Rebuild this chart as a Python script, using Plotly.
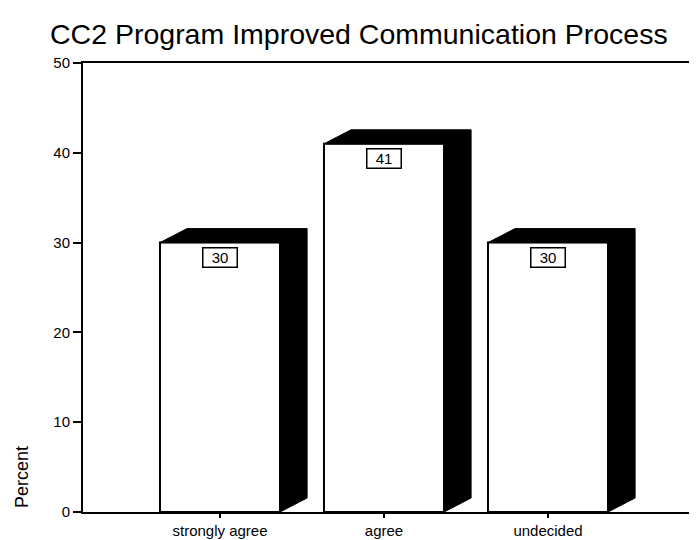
import plotly.graph_objects as go

categories = ["strongly agree", "agree", "undecided"]
percent = [30, 41, 30]
y_ticks = [0, 10, 20, 30, 40, 50]

title_text = "CC2 Program Improved Communication Process"
y_title = "Percent"

# geometry (style) parameters
bar_w = 0.732      # front face width in category units
dx = 0.165         # 3D depth, category units
dy = 1.56          # 3D depth, data units

# page body has an 8px margin; size the figure so it fits the 697x540 window
W, H = 689, 532

xs = list(range(len(categories)))

fig = go.Figure()

# black top + side of each 3D bar
for x, v in zip(xs, percent):
    l = x - bar_w / 2
    r = x + bar_w / 2
    px = [l, l + dx, r + dx, r + dx, r, r, l]
    py = [v, v + dy, v + dy, dy, 0, v, v]
    fig.add_trace(go.Scatter(x=px, y=py, mode="lines", fill="toself",
                             fillcolor="black", line=dict(color="black", width=1),
                             hoverinfo="skip", showlegend=False))

fig.add_trace(go.Bar(x=xs, y=percent, width=bar_w,
                     marker=dict(color="white", line=dict(color="black", width=2)),
                     showlegend=False))

for x, v in zip(xs, percent):
    fig.add_annotation(x=x, y=v, xref="x", yref="y", text=str(v), showarrow=False,
                       yshift=-15, yanchor="middle",
                       font=dict(family="Liberation Sans", size=15, color="black"),
                       bgcolor="white", bordercolor="black", borderwidth=1.5,
                       borderpad=0, width=33, height=18)

fig.add_annotation(x=-(83 - 22) / 614, y=0.078, xref="paper", yref="paper", text=y_title,
                   textangle=-90, showarrow=False, xanchor="center", yanchor="middle",
                   font=dict(family="Liberation Sans", size=18, color="black"))

fig.update_layout(
    width=W, height=H,
    margin=dict(l=75, r=0, t=55, b=28, pad=0),
    paper_bgcolor="white", plot_bgcolor="white",
    title=dict(text=title_text, x=42 / W, xanchor="left", xref="container",
               y=1 - 26 / H, yanchor="middle", yref="container",
               font=dict(family="Liberation Sans", size=28.5, color="black")),
    xaxis=dict(range=[-0.8354, 2.9085], tickmode="array", tickvals=xs,
               ticktext=categories, showgrid=False, zeroline=False,
               showline=True, linecolor="black", linewidth=2, mirror=True,
               ticks="outside", ticklen=4, tickwidth=1.5, tickcolor="black",
               tickfont=dict(family="Liberation Sans", size=15, color="black")),
    yaxis=dict(range=[0, 50], tickmode="array", tickvals=y_ticks,
               showgrid=False, zeroline=False, showline=True, linecolor="black",
               linewidth=2, mirror=False, ticks="outside", ticklen=8, tickwidth=2,
               tickcolor="black",
               tickfont=dict(family="Liberation Sans", size=15, color="black")),
)

fig.write_html("out.html")
